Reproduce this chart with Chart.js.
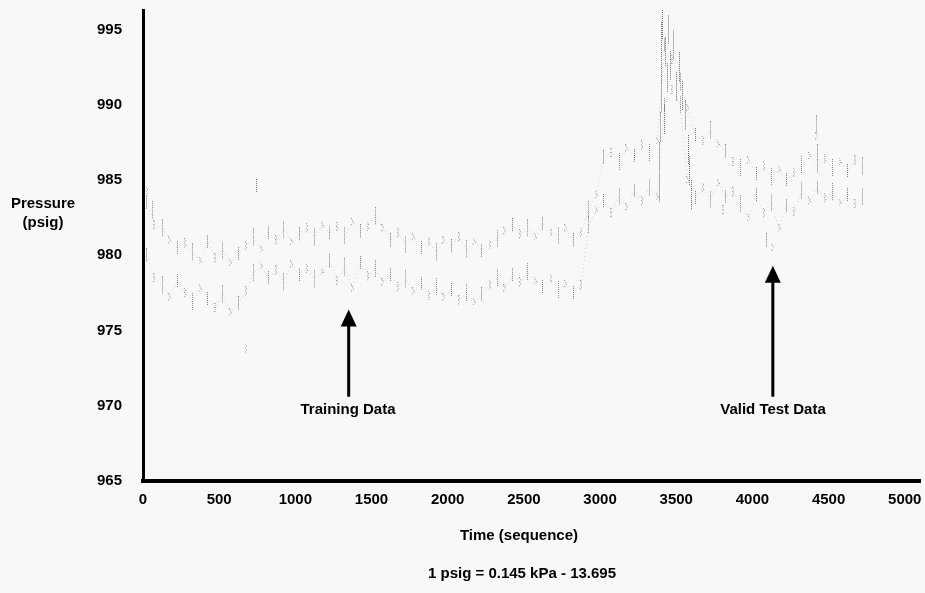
<!DOCTYPE html>
<html lang="en">
<head>
    <meta charset="UTF-8">
    <title>Pressure vs Time</title>
    <script src="https://cdn.jsdelivr.net/npm/chart.js"></script>
    <style>
        body {
            margin: 0;
            padding: 0;
            background-color: #f8f8f8;
            font-family: "Liberation Sans", Arial, sans-serif;
        }
        .wrap {
            position: relative;
            width: 925px;
            height: 593px;
        }
        .lbl {
            position: absolute;
            font-weight: bold;
            font-size: 15px;
            color: #000;
            text-align: center;
            white-space: nowrap;
            transform: translate(-50%, -50%);
        }
    </style>
</head>
<body>
<div class="wrap">
    <canvas id="chart" width="925" height="593"></canvas>
    <div class="lbl" style="left:43px; top:212px; line-height:19px;">Pressure<br>(psig)</div>
    <div class="lbl" style="left:348px; top:408px;">Training Data</div>
    <div class="lbl" style="left:773px; top:408px;">Valid Test Data</div>
    <div class="lbl" style="left:519px; top:534px;">Time (sequence)</div>
    <div class="lbl" style="left:522px; top:572px;">1 psig = 0.145 kPa - 13.695</div>
</div>

<script>
    // sample positions (time sequence)
    const timeSteps = [25, 75, 125, 175, 225, 275, 325, 375, 425, 475,
        525, 575, 625, 675, 725, 775, 825, 875, 925, 975,
        1025, 1075, 1125, 1175, 1225, 1275, 1325, 1375, 1425, 1475,
        1525, 1575, 1625, 1675, 1725, 1775, 1825, 1875, 1925, 1975,
        2025, 2075, 2125, 2175, 2225, 2275, 2325, 2375, 2425, 2475,
        2525, 2575, 2625, 2675, 2725, 2775, 2825, 2875, 2925, 2975,
        3025, 3075, 3125, 3175, 3225, 3275, 3325, 3375, 3425, 3475,
        3525, 3575, 3625, 3675, 3725, 3775, 3825, 3875, 3925, 3975,
        4025, 4075, 4125, 4175, 4225, 4275, 4325, 4375, 4425, 4475,
        4525, 4575, 4625, 4675, 4725];

    // upper band of readings (psig)
    const upperBand = [983.5, 982.0, 981.8, 981.0, 980.5, 980.8, 980.2, 979.6, 980.9, 979.8,
        980.3, 979.5, 980.1, 980.6, 981.2, 980.4, 981.5, 981.0, 981.7, 980.9,
        981.4, 981.8, 981.2, 982.0, 981.5, 981.9, 981.3, 982.2, 981.6, 981.9,
        982.6, 981.8, 981.0, 981.5, 980.7, 981.2, 980.5, 980.9, 980.2, 981.0,
        980.6, 981.2, 980.4, 980.9, 980.3, 980.7, 981.1, 981.6, 982.0, 981.4,
        981.8, 981.2, 982.1, 981.5, 981.3, 981.8, 981.0, 981.5, 983.0, 984.0,
        986.5, 986.8, 986.2, 987.1, 986.6, 987.3, 986.8, 987.6, 994.0, 993.0,
        991.5, 989.8, 988.0, 987.6, 988.3, 987.4, 986.9, 986.2, 985.8, 986.3,
        985.4, 985.9, 985.2, 985.7, 985.0, 985.5, 986.0, 986.6, 985.9, 986.4,
        985.8, 986.2, 985.6, 986.3, 985.9];

    // lower band of readings (psig)
    const lowerBand = [980.0, 978.5, 978.0, 977.2, 978.3, 977.5, 976.9, 977.8, 977.1, 976.5,
        977.4, 976.2, 976.8, 977.6, 978.8, 979.3, 978.5, 979.0, 978.2, 979.4,
        978.7, 979.1, 978.4, 978.9, 979.6, 978.3, 979.2, 977.8, 979.5, 978.6,
        979.1, 978.2, 978.7, 977.9, 978.4, 977.6, 978.1, 977.3, 977.9, 977.2,
        977.7, 977.0, 977.5, 976.9, 977.4, 978.0, 978.5, 977.8, 978.7, 978.2,
        978.9, 978.3, 977.9, 978.4, 977.7, 978.1, 977.5, 978.0, 982.0, 983.0,
        983.6, 982.8, 983.9, 983.2, 984.3, 983.6, 984.5, 983.9, 990.0, 991.0,
        990.0, 985.0, 983.8, 984.5, 983.7, 984.8, 983.9, 984.2, 983.4, 982.5,
        984.0, 982.8, 983.5, 981.8, 983.3, 982.9, 984.3, 983.6, 984.5, 983.8,
        984.2, 983.5, 984.0, 983.4, 983.9];

    // spike and stray readings
    const extraX = [3390, 3390, 3395, 3400, 3400, 3405, 3410, 3420, 3430, 3440,
        3450, 3460, 3480, 3500, 3520, 3540, 3560, 3580, 3590, 3600,
        745, 675, 4423, 4423, 4430, 25, 60, 4135, 4090, 3810];
    const extraY = [984.5, 986.5, 988.5, 990.5, 992.5, 994.5, 995.3, 989.0, 993.5, 991.8,
        995.0, 992.6, 994.0, 991.2, 992.5, 990.6, 989.3, 987.0, 985.6, 984.0,
        984.6, 973.8, 988.7, 987.9, 986.9, 984.2, 983.0, 980.5, 981.0, 983.0];

    const yTicks = [965, 970, 975, 980, 985, 990, 995];
    const xTicks = [0, 500, 1000, 1500, 2000, 2500, 3000, 3500, 4000, 4500, 5000];

    function toPoints(xs, ys) {
        return xs.map((x, i) => ({ x: x, y: ys[i] }));
    }

    // dotted vertical streak markers, like the scanned plot
    function makeStreak(h, w, alpha) {
        const c = document.createElement('canvas');
        c.width = w;
        c.height = h;
        const g = c.getContext('2d');
        g.fillStyle = 'rgba(95,95,95,' + alpha + ')';
        for (let y = 0; y < h; y += 2) {
            g.fillRect((y / 2) % w, y, 1, 1);
        }
        return c;
    }
    const streaks = [makeStreak(14, 1, 0.8), makeStreak(10, 2, 0.65), makeStreak(18, 1, 0.7), makeStreak(8, 3, 0.6)];
    const tallStreak = makeStreak(30, 1, 0.9);

    // arrows under the annotations
    const arrowPlugin = {
        id: 'arrows',
        afterDatasetsDraw(chart) {
            const ctx = chart.ctx;
            const xs = chart.scales.x, ys = chart.scales.y;
            const arrows = [
                { x: 1350, top: 976.4, bottom: 970.6 },
                { x: 4134, top: 979.3, bottom: 970.6 }
            ];
            ctx.save();
            ctx.fillStyle = '#000';
            ctx.strokeStyle = '#000';
            arrows.forEach(a => {
                const px = xs.getPixelForValue(a.x);
                const pt = ys.getPixelForValue(a.top);
                const pb = ys.getPixelForValue(a.bottom);
                ctx.lineWidth = 3;
                ctx.beginPath();
                ctx.moveTo(px, pt + 12);
                ctx.lineTo(px, pb);
                ctx.stroke();
                ctx.beginPath();
                ctx.moveTo(px, pt);
                ctx.lineTo(px - 8, pt + 17);
                ctx.lineTo(px + 8, pt + 17);
                ctx.closePath();
                ctx.fill();
            });
            ctx.restore();
        }
    };

    const bandStyle = {
        showLine: true,
        borderColor: 'rgba(175,175,175,0.55)',
        borderWidth: 1,
        borderDash: [1, 3],
        pointStyle: (ctx) => streaks[ctx.dataIndex % streaks.length]
    };

    const tickFont = { family: 'Liberation Sans', size: 15, weight: 'bold' };

    new Chart(document.getElementById('chart'), {
        type: 'scatter',
        data: {
            datasets: [
                Object.assign({ label: 'Upper', data: toPoints(timeSteps, upperBand) }, bandStyle),
                Object.assign({ label: 'Lower', data: toPoints(timeSteps, lowerBand) }, bandStyle),
                {
                    label: 'Extra',
                    data: toPoints(extraX, extraY),
                    pointStyle: (ctx) => ctx.dataIndex < 20 ? tallStreak : streaks[ctx.dataIndex % streaks.length]
                }
            ]
        },
        options: {
            responsive: false,
            animation: false,
            layout: { padding: { top: 10, right: 0, left: 0, bottom: 0 } },
            plugins: {
                legend: { display: false },
                tooltip: { enabled: false }
            },
            scales: {
                x: {
                    type: 'linear',
                    min: 0,
                    max: 5100,
                    grid: { display: false },
                    border: { display: true, color: '#000', width: 4 },
                    ticks: {
                        stepSize: 500,
                        padding: 2,
                        color: '#000',
                        font: tickFont,
                        callback: (v) => String(v)
                    },
                    afterBuildTicks(scale) {
                        scale.ticks = xTicks.map(v => ({ value: v }));
                    },
                    afterFit(scale) {
                        scale.height = 112;
                        scale.paddingLeft = 0;
                        scale.paddingRight = 0;
                    }
                },
                y: {
                    min: 965,
                    max: 996.3,
                    grid: { display: false },
                    border: { display: true, color: '#000', width: 3 },
                    ticks: {
                        stepSize: 5,
                        padding: 13,
                        color: '#000',
                        font: tickFont,
                        callback: (v) => String(v)
                    },
                    afterBuildTicks(scale) {
                        scale.ticks = yTicks.map(v => ({ value: v }));
                    },
                    afterFit(scale) {
                        scale.width = 143;
                        scale.paddingTop = 0;
                        scale.paddingBottom = 0;
                    }
                }
            }
        },
        plugins: [arrowPlugin]
    });
</script>
</body>
</html>
